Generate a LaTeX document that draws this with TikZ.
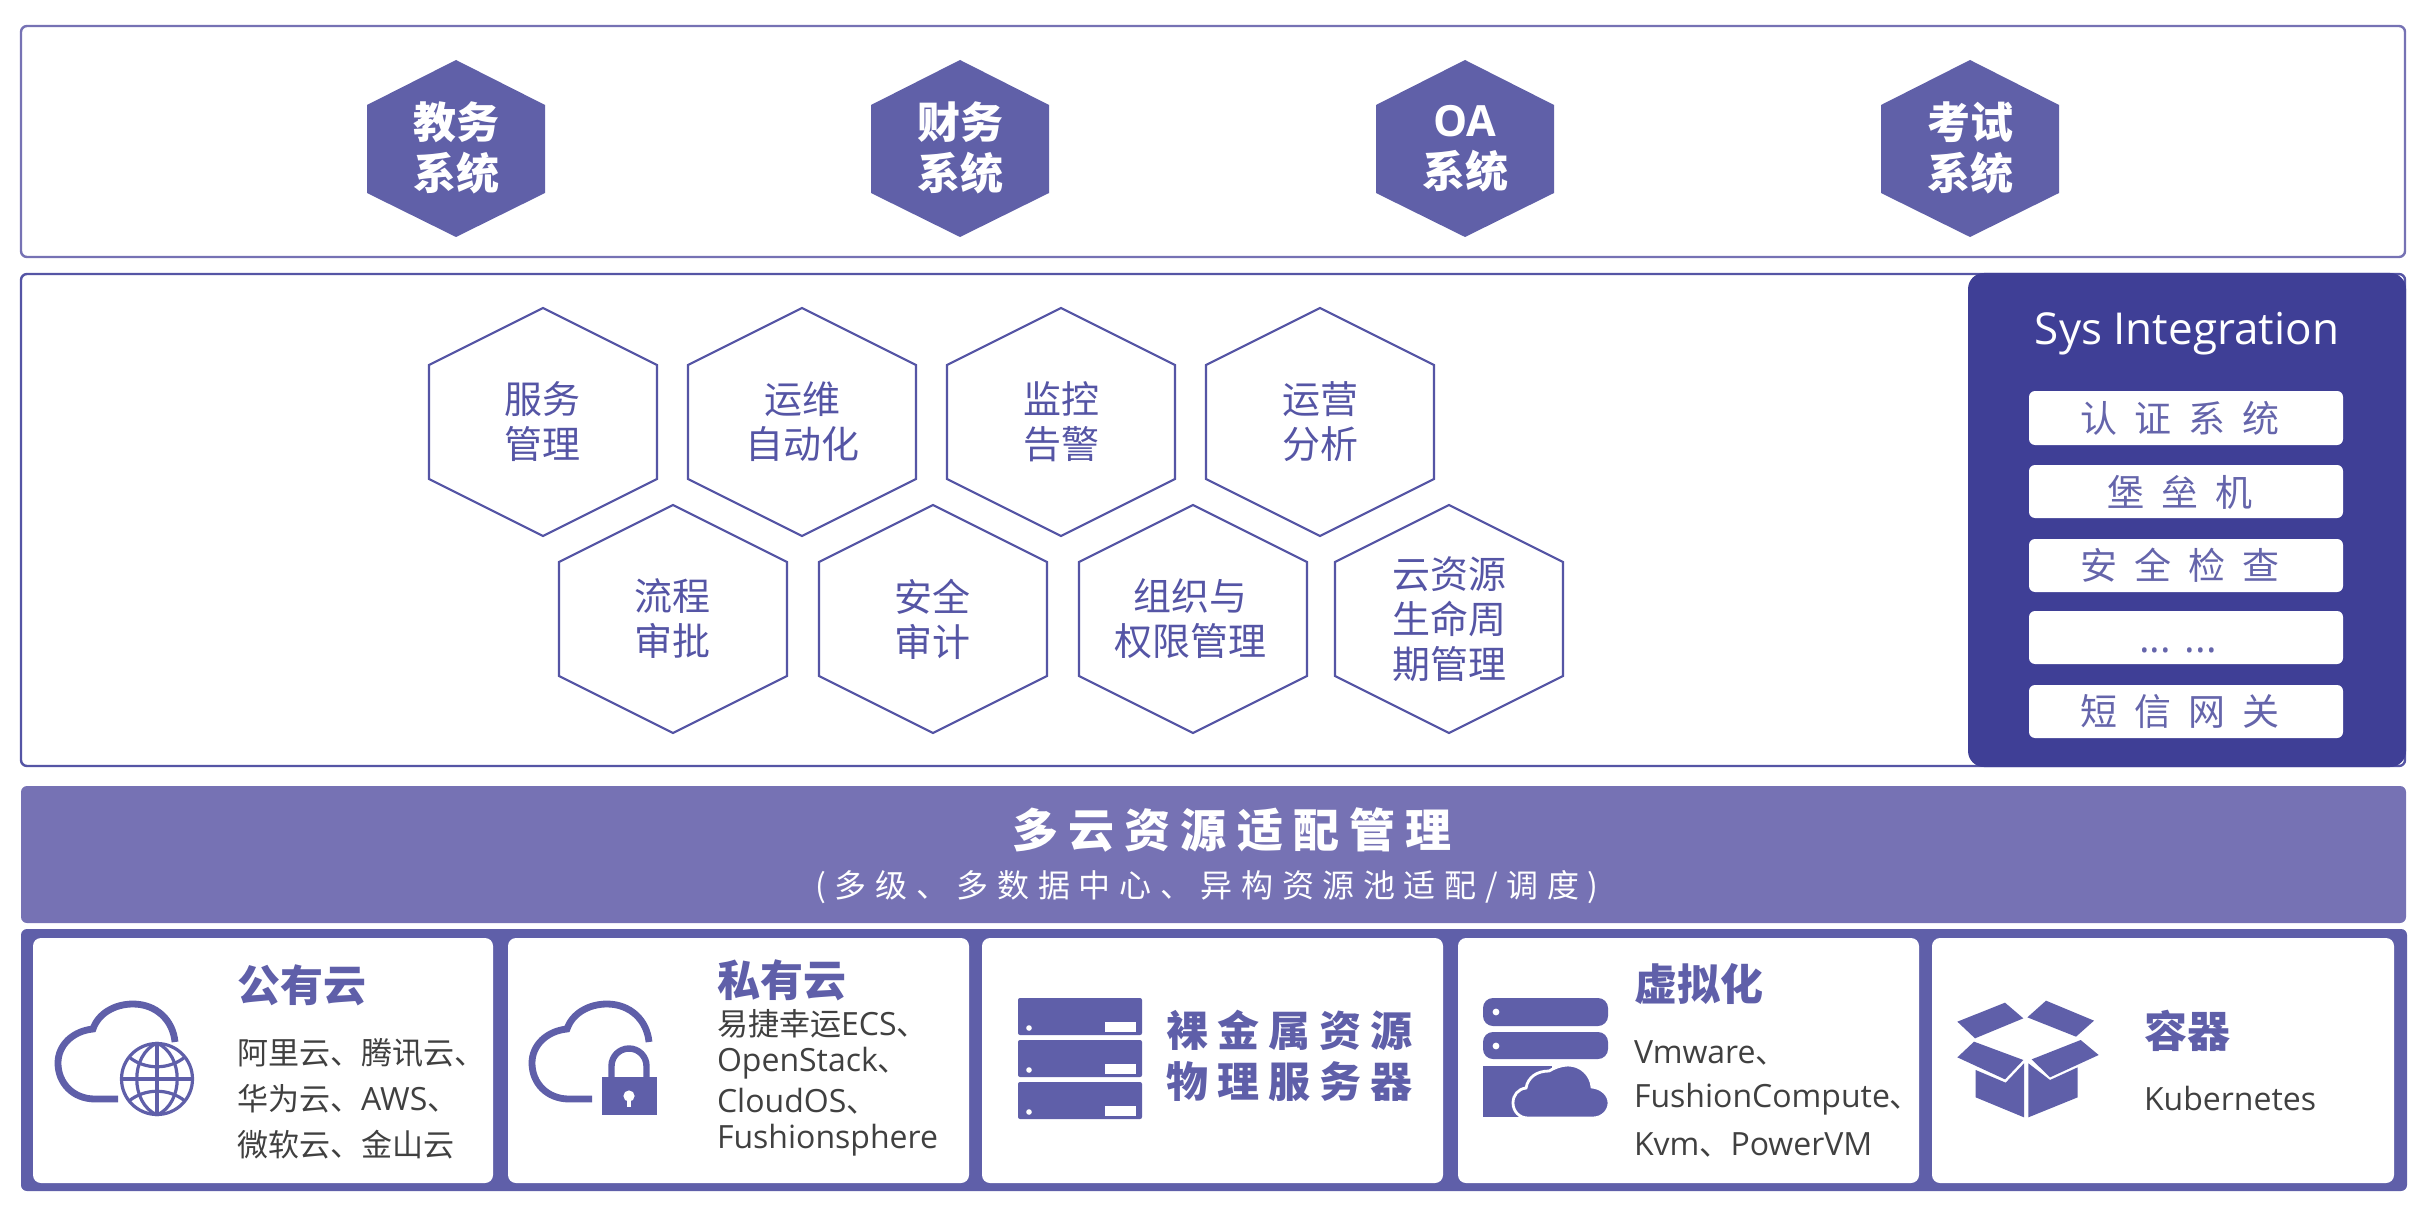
\documentclass[tikz,border=0pt]{standalone}
\usepackage{fontspec}
\setmainfont{Open Sans}
\newfontfamily\cj{Noto Sans CJK SC}
\newfontfamily\cjs[Scale=0.97]{Noto Sans CJK SC}
\newfontfamily\cjw[LetterSpace=22]{Noto Sans CJK SC}
\newfontfamily\cjv[LetterSpace=27]{Noto Sans CJK SC}
\newfontfamily\cjx[LetterSpace=46]{Noto Sans CJK SC}
\definecolor{hexfill}{HTML}{6060A8}
\definecolor{bandc}{HTML}{7672B4}
\definecolor{basec}{HTML}{5F5FA9}
\definecolor{darkc}{HTML}{3F3F96}
\definecolor{linec}{HTML}{5555A5}
\definecolor{greyt}{HTML}{404040}
\tikzset{
  panel/.style={draw=#1,line width=1.2pt,fill=white,rounded corners=3pt},
  card/.style={fill=white,rounded corners=4pt},
  txt/.style={inner sep=0pt,outer sep=0pt,align=center},
  ltxt/.style={inner sep=0pt,outer sep=0pt,anchor=west,text=greyt,font=\fontsize{16}{18}\selectfont},
  htop/.style={txt,text=white,font=\fontsize{21.5}{25.5}\selectfont\bfseries},
  hmid/.style={txt,text=linec,font=\fontsize{19}{22.5}\selectfont},
  head/.style={inner sep=0pt,outer sep=0pt,anchor=west,text=basec,font=\fontsize{21.5}{24}\selectfont\bfseries},
  rowbox/.style={fill=white,rounded corners=3pt},
  rowtxt/.style={txt,text=darkc!80!white,font=\fontsize{18.5}{22}\selectfont},
  icon/.style={fill=basec},
  iconline/.style={draw=basec,line width=3.4pt},
  cloudicon/.pic={
    \draw[iconline] (118,1099) -- (95,1099) .. controls (73,1099) and (58,1083) .. (58,1063)
      .. controls (58,1045) and (73,1031) .. (93,1029)
      .. controls (98,1014) and (114,1004) .. (133,1004)
      .. controls (156,1004) and (173,1020) .. (175,1042);
  },
}
\newcommand{\tophex}[1]{\fill[hexfill] (#1-89,105) -- (#1,60) -- (#1+89,105) -- (#1+89,193) -- (#1,237) -- (#1-89,193) -- cycle;}
\newcommand{\midhex}[2]{\draw[linec,line width=1.1pt,fill=white] (#1-114,#2-57) -- (#1,#2-114) -- (#1+114,#2-57) -- (#1+114,#2+57) -- (#1,#2+114) -- (#1-114,#2+57) -- cycle;}
\begin{document}
\begin{tikzpicture}[x=0.5pt,y=-0.5pt]
\useasboundingbox (0,0) rectangle (2424,1214);
% top panel
\draw[panel=bandc] (21,26) rectangle (2405,257);
\foreach \c in {456,960,1465,1970} {\tophex{\c}}
\node[htop] (t1) at (456,148) {\cj 教务\\\cj 系统};
\node[htop] (t2) at (960,148) {\cj 财务\\\cj 系统};
\node[htop] (t3) at (1465,149) {OA\\\cj 系统};
\node[htop] (t4) at (1970,148) {\cj 考试\\\cj 系统};
% middle panel
\draw[panel=linec] (21,274) rectangle (2405,766);
\foreach \c in {543,802,1061,1320} {\midhex{\c}{422}}
\foreach \c in {673,933,1193,1449} {\midhex{\c}{619}}
\node[hmid] (m1) at (542,422) {\cj 服务\\\cj 管理};
\node[hmid] (m2) at (802,422) {\cj 运维\\\cj 自动化};
\node[hmid] (m3) at (1061,422) {\cj 监控\\\cj 告警};
\node[hmid] (m4) at (1320,422) {\cj 运营\\\cj 分析};
\node[hmid] (m5) at (672,619) {\cj 流程\\\cj 审批};
\node[hmid] (m6) at (932,619) {\cj 安全\\\cj 审计};
\node[hmid] (m7) at (1190,619) {\cj 组织与\\\cj 权限管理};
\node[hmid] (m8) at (1449,619) {\cj 云资源\\\cj 生命周\\\cj 期管理};
% sys integration
\fill[darkc,rounded corners=8pt] (1968,273) rectangle (2406,767);
\node[txt,text=white,font=\fontsize{22}{26}\selectfont,anchor=base] (sys) at (2187,344) {Sys Integration};
\fill[rowbox] (2029,391) rectangle (2343,445);
\fill[rowbox] (2029,465) rectangle (2343,518);
\fill[rowbox] (2029,539) rectangle (2343,592);
\fill[rowbox] (2029,611) rectangle (2343,664);
\fill[rowbox] (2029,685) rectangle (2343,738);
\node[rowtxt] (r1) at (2180,418) {\cjx 认证系统};
\node[rowtxt] (r2) at (2180,492) {\cjx 堡垒机};
\node[rowtxt] (r3) at (2180,565) {\cjx 安全检查};
\node[rowtxt,font=\fontsize{20}{22}\selectfont,anchor=base] (r4) at (2178,652) {... ...};
\node[rowtxt] (r5) at (2180,711) {\cjx 短信网关};
% band
\fill[bandc,rounded corners=3pt] (21,786) rectangle (2406,923);
\node[txt,text=white,font=\fontsize{23}{26}\selectfont\bfseries] (b1) at (1232,830) {\cjw 多云资源适配管理};
\node[txt,text=white,font=\fontsize{16}{18}\selectfont] (b2) at (1207,887) {\cjv (多级、多数据中心、异构资源池适配/调度)};
% base
\fill[basec,rounded corners=3pt] (21,929) rectangle (2407,1191);
\fill[card] (33,938) rectangle (493,1183);
\fill[card] (508,938) rectangle (969,1183);
\fill[card] (982,938) rectangle (1443,1183);
\fill[card] (1458,938) rectangle (1919,1183);
\fill[card] (1932,938) rectangle (2394,1183);
% card 1
\pic at (0,0) {cloudicon};
\begin{scope}[draw=basec,line width=1.6pt]
\draw[fill=white] (157,1079) circle (17.75pt);
\draw (157,1043) -- (157,1115);
\draw (121,1079) -- (193,1079);
\draw (157,1043) .. controls (130,1055) and (130,1103) .. (157,1115);
\draw (157,1043) .. controls (184,1055) and (184,1103) .. (157,1115);
\draw (129,1057) .. controls (145,1070) and (169,1070) .. (185,1057);
\draw (129,1101) .. controls (145,1088) and (169,1088) .. (185,1101);
\end{scope}
\node[head] (c1h) at (237,985) {\cj 公有云};
\node[ltxt] (c1a) at (237,1053) {\cjs 阿里云、腾讯云、};
\node[ltxt] (c1b) at (237,1099) {\cjs 华为云、\rmfamily AWS\cjs 、};
\node[ltxt] (c1c) at (237,1145) {\cjs 微软云、金山云};
% card 2
\pic at (474,0) {cloudicon};
\draw[iconline,line width=3.2pt] (611.5,1080) -- (611.5,1066) arc[start angle=180,end angle=360,radius=17.5] -- (646.5,1080);
\fill[icon] (602,1077) rectangle (657,1115);
\fill[white] (629,1096) circle (2.8pt);
\fill[white] (627,1098) rectangle (631,1107);
\node[head] (c2h) at (717,980) {\cj 私有云};
\node[ltxt] (c2a) at (717,1024) {\cjs 易捷幸运\rmfamily ECS\cjs 、};
\node[ltxt] (c2b) at (717,1063) {OpenStack\cjs 、};
\node[ltxt] (c2c) at (717,1101) {CloudOS\cjs 、};
\node[ltxt] (c2d) at (717,1140) {Fushionsphere};
% card 3
\foreach \t in {998,1040,1082} {
  \fill[icon,rounded corners=1pt] (1018,\t) rectangle (1142,\t+37);
  \fill[white] (1029,\t+30) circle (1.4pt);
  \fill[white] (1105,\t+24) rectangle (1136,\t+34);
}
\node[txt,anchor=west,text=basec,font=\fontsize{21}{24}\selectfont\bfseries] (c3a) at (1166,1030) {\cjw 裸金属资源};
\node[txt,anchor=west,text=basec,font=\fontsize{21}{24}\selectfont\bfseries] (c3b) at (1166,1082) {\cjw 物理服务器};
% card 4
\fill[icon,rounded corners=5pt] (1483,998) rectangle (1608,1026);
\fill[icon,rounded corners=5pt] (1483,1032) rectangle (1608,1059);
\fill[white] (1496,1012) circle (1.7pt);
\fill[white] (1496,1046) circle (1.7pt);
\fill[icon] (1483,1066) rectangle (1552,1117);
\filldraw[fill=basec,draw=white,line width=1.4pt] (1528,1118) .. controls (1519,1118) and (1513,1111) .. (1513,1103)
  .. controls (1513,1095) and (1518,1089) .. (1526,1088)
  .. controls (1528,1077) and (1537,1071) .. (1549,1071)
  .. controls (1554,1068) and (1561,1065) .. (1568,1065)
  .. controls (1581,1065) and (1591,1075) .. (1592,1087)
  .. controls (1602,1088) and (1609,1095) .. (1609,1103)
  .. controls (1609,1111) and (1602,1118) .. (1593,1118) -- cycle;
\node[head] (c4h) at (1634,984) {\cj 虚拟化};
\node[ltxt] (c4a) at (1634,1053) {Vmware\cjs 、};
\node[ltxt] (c4b) at (1634,1099) {FushionCompute\cjs 、};
\node[ltxt] (c4c) at (1634,1145) {Kvm\cjs 、\rmfamily PowerVM};
% card 5 box icon
\begin{scope}[shift={(1940,980)},x=0.16667pt,y=-0.16667pt]
\fill[icon] (195,68) -- (250,115) -- (105,175) -- (52,125) -- cycle;
\fill[icon] (318,62) -- (462,122) -- (408,170) -- (262,112) -- cycle;
\fill[icon] (102,185) -- (250,240) -- (195,298) -- (52,232) -- cycle;
\fill[icon] (422,180) -- (476,225) -- (330,292) -- (275,238) -- cycle;
\fill[icon] (107,270) -- (197,308) -- (252,250) -- (252,412) -- (107,352) -- cycle;
\fill[icon] (265,250) -- (330,300) -- (413,262) -- (413,352) -- (265,412) -- cycle;
\end{scope}
\node[head] (c5h) at (2144,1031) {\cj 容器};
\node[ltxt] (c5a) at (2144,1098) {Kubernetes};
\end{tikzpicture}
\end{document}
